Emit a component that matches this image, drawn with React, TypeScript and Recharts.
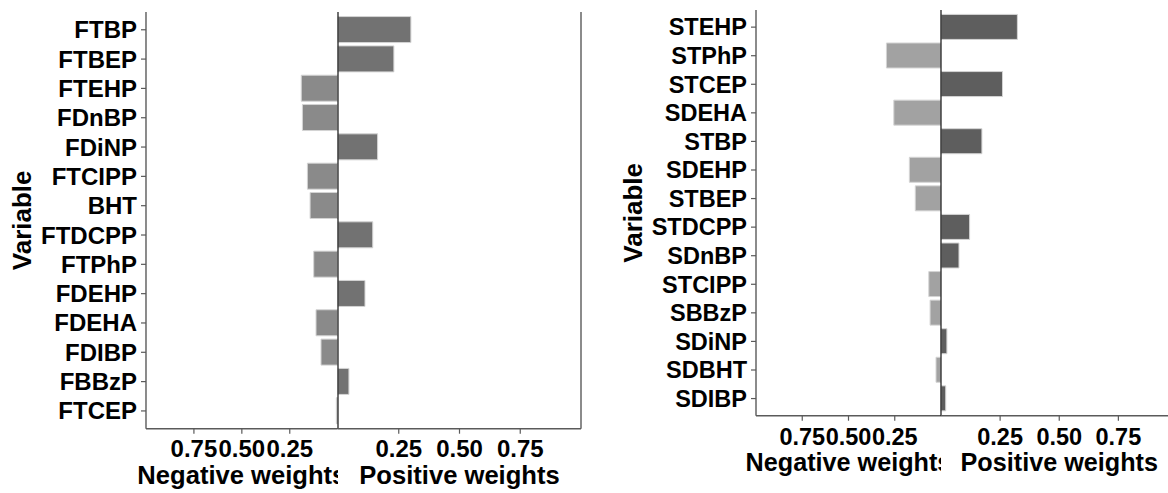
import React from 'react';
import { BarChart, Bar, XAxis, YAxis, ReferenceLine } from 'recharts';

const FONT = '"Liberation Sans", Arial, Helvetica, sans-serif';

const leftCategories = ['FTBP', 'FTBEP', 'FTEHP', 'FDnBP', 'FDiNP', 'FTCIPP', 'BHT', 'FTDCPP', 'FTPhP', 'FDEHP', 'FDEHA', 'FDIBP', 'FBBzP', 'FTCEP'];
const leftWeights = [0.3, 0.23, -0.19, -0.184, 0.163, -0.158, -0.144, 0.143, -0.125, 0.111, -0.113, -0.087, 0.045, -0.007];

const rightCategories = ['STEHP', 'STPhP', 'STCEP', 'SDEHA', 'STBP', 'SDEHP', 'STBEP', 'STDCPP', 'SDnBP', 'STCIPP', 'SBBzP', 'SDiNP', 'SDBHT', 'SDIBP'];
const rightWeights = [0.323, -0.295, 0.26, -0.255, 0.173, -0.171, -0.139, 0.121, 0.076, -0.066, -0.059, 0.025, -0.027, 0.02];

const negTicks = [-0.75, -0.5, -0.25];
const posTicks = [0.25, 0.5, 0.75];
const yTitle = 'Variable';
const negTitle = 'Negative weights';
const posTitle = 'Positive weights';

const AXIS = '#5a5a5a';
const H = 493;

function buildRows(cats: string[], weights: number[]) {
  return cats.map((name, i) => ({
    name,
    neg: weights[i] < 0 ? weights[i] : null,
    pos: weights[i] > 0 ? weights[i] : null,
  }));
}

const fmt = (v: number) => Math.abs(v).toFixed(2);

type Cfg = {
  left: number;
  axisX: number;
  centerX: number;
  posEnd: number;
  top: number;
  bottom: number;
  pad: number;
  gap: string;
  tickFont: number;
  titleFont: number;
  titleBase: number;
  varX: number;
  xTickMargin: number;
  negFill: string;
  posFill: string;
};

const leftCfg: Cfg = {
  left: 0, axisX: 146, centerX: 337.7, posEnd: 580.7, top: 12, bottom: 428.7, pad: 3.1, gap: '5%',
  tickFont: 24, titleFont: 25.6, titleBase: 484.3, varX: 21.5, xTickMargin: 6.3,
  negFill: '#8a8a8a', posFill: '#727272',
};

const rightCfg: Cfg = {
  left: 600, axisX: 756, centerX: 941, posEnd: 1177.5, top: 10, bottom: 415.7, pad: 2.85, gap: '5.5%',
  tickFont: 23.5, titleFont: 25.2, titleBase: 471, varX: 633, xTickMargin: 7.6,
  negFill: '#a2a2a2', posFill: '#5e5e5e',
};

function Panel({ cfg, cats, weights }: { cfg: Cfg; cats: string[]; weights: number[] }) {
  const rows = buildRows(cats, weights);
  const xAxisH = H - cfg.bottom;
  const negW = cfg.centerX - cfg.left;
  const yAxisW = cfg.axisX - cfg.left;
  const posPlotW = cfg.posEnd - cfg.centerX;
  const lm = 4;
  const rm = 6;
  const tickStyle = { fill: '#000', fontSize: cfg.tickFont, fontWeight: 700, fontFamily: FONT };
  const titleStyle = { fill: '#000', fontSize: cfg.titleFont, fontWeight: 700, fontFamily: FONT };
  const varCx = cfg.varX - cfg.left;
  const varCy = (cfg.top + cfg.bottom) / 2;
  const negCenter = (cfg.axisX + cfg.centerX) / 2 - cfg.left;
  const posCenter = lm + posPlotW / 2;

  return (
    <>
      <div style={{ position: 'absolute', left: cfg.left, top: 0 }}>
        <BarChart
          layout="vertical"
          width={negW}
          height={H}
          data={rows}
          margin={{ top: cfg.top, right: 0, bottom: 0, left: 0 }}
          barCategoryGap={cfg.gap}
        >
          <XAxis
            type="number"
            domain={[-1, 0]}
            ticks={negTicks}
            tickFormatter={fmt}
            height={xAxisH}
            tickSize={5}
            tickMargin={cfg.xTickMargin}
            axisLine={{ stroke: AXIS, strokeWidth: 1.4 }}
            tickLine={{ stroke: AXIS, strokeWidth: 1.2 }}
            tick={tickStyle}
            interval={0}
            label={{
              content: () => (
                <text x={negCenter} y={cfg.titleBase} textAnchor="middle" style={titleStyle}>
                  {negTitle}
                </text>
              ),
            }}
          />
          <YAxis
            type="category"
            dataKey="name"
            width={yAxisW}
            padding={{ top: cfg.pad, bottom: cfg.pad }}
            tickSize={5}
            tickMargin={4}
            interval={0}
            axisLine={{ stroke: AXIS, strokeWidth: 1.4 }}
            tickLine={{ stroke: AXIS, strokeWidth: 1.2 }}
            tick={tickStyle}
            label={{
              content: () => (
                <text
                  transform={`translate(${varCx},${varCy}) rotate(-90)`}
                  x={0}
                  y={0}
                  dy="0.36em"
                  textAnchor="middle"
                  style={{ ...titleStyle, fontSize: 26 }}
                >
                  {yTitle}
                </text>
              ),
            }}
          />
          <Bar dataKey="neg" fill={cfg.negFill} stroke="#d4d4d4" strokeWidth={1} isAnimationActive={false} />
        </BarChart>
      </div>
      <div style={{ position: 'absolute', left: cfg.centerX - lm, top: 0 }}>
        <BarChart
          layout="vertical"
          width={posPlotW + lm + rm}
          height={H}
          data={rows}
          margin={{ top: cfg.top, right: rm, bottom: 0, left: lm }}
          barCategoryGap={cfg.gap}
        >
          <XAxis
            type="number"
            domain={[0, 1]}
            ticks={posTicks}
            tickFormatter={fmt}
            height={xAxisH}
            tickSize={5}
            tickMargin={cfg.xTickMargin}
            axisLine={{ stroke: AXIS, strokeWidth: 1.4 }}
            tickLine={{ stroke: AXIS, strokeWidth: 1.2 }}
            tick={tickStyle}
            interval={0}
            label={{
              content: () => (
                <text x={posCenter} y={cfg.titleBase} textAnchor="middle" style={titleStyle}>
                  {posTitle}
                </text>
              ),
            }}
          />
          <YAxis type="category" dataKey="name" hide padding={{ top: cfg.pad, bottom: cfg.pad }} />
          <Bar dataKey="pos" fill={cfg.posFill} stroke="#d4d4d4" strokeWidth={1} isAnimationActive={false} />
          <ReferenceLine x={0} stroke="#111" strokeWidth={1.2} />
          <ReferenceLine x={1} stroke={AXIS} strokeWidth={1.4} />
        </BarChart>
      </div>
    </>
  );
}

export default function App() {
  return (
    <div
      style={{
        position: 'absolute',
        left: 0,
        top: 0,
        width: 1168,
        height: 493,
        overflow: 'hidden',
        background: '#fff',
      }}
    >
      <Panel cfg={leftCfg} cats={leftCategories} weights={leftWeights} />
      <Panel cfg={rightCfg} cats={rightCategories} weights={rightWeights} />
    </div>
  );
}
